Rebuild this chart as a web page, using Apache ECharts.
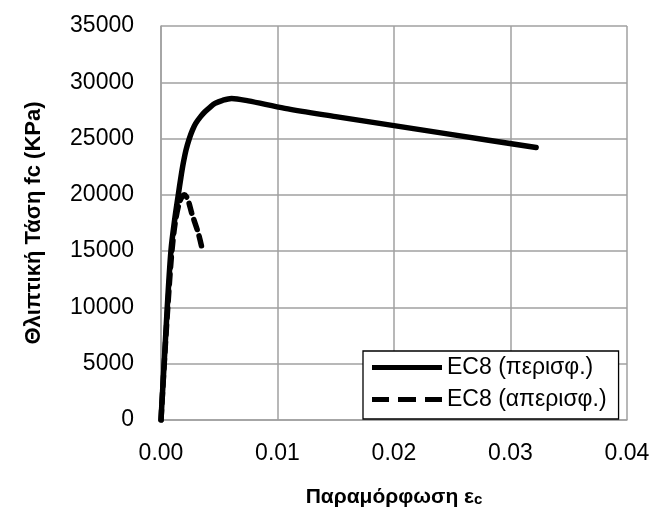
<!DOCTYPE html>
<html>
<head>
<meta charset="utf-8">
<script src="https://cdn.jsdelivr.net/npm/echarts@6/dist/echarts.min.js"></script>
<style>
  html, body { margin: 0; padding: 0; background: #fff; }
  #chart { width: 653px; height: 523px; }
</style>
</head>
<body>
<div id="chart"></div>
<script>
// Confined concrete (EC8) stress-strain curve
const confinedStrain = [0, 0.0001, 0.00028, 0.00054, 0.00086, 0.0012, 0.00148, 0.0017, 0.00191, 0.00215, 0.00243, 0.0027, 0.00298, 0.0034, 0.00377, 0.0042, 0.00463, 0.0053, 0.00606, 0.0075, 0.01063, 0.015, 0.02, 0.025, 0.0322];
const confinedStress = [0, 1900, 5180, 10060, 15100, 18000, 19980, 21500, 22800, 24000, 25000, 25750, 26350, 26950, 27380, 27780, 28120, 28400, 28570, 28350, 27680, 26950, 26150, 25350, 24200];

// Unconfined concrete (EC8) stress-strain curve
const unconfinedStrain = [0, 0.0003, 0.0006, 0.0009, 0.0012, 0.0016, 0.002, 0.0023, 0.00263, 0.0032, 0.0035];
const unconfinedStress = [0, 5400, 10300, 14600, 17400, 19400, 20000, 19600, 18400, 16600, 15350];

const seriesNames = ['EC8 (περισφ.)', 'EC8 (απερισφ.)'];
const xAxisTitle = 'Παραμόρφωση ε';
const xAxisTitleSub = 'c';
const yAxisTitle = 'Θλιπτική Τάση fc (KPa)';

const pairs = (xs, ys) => xs.map((x, i) => [x, ys[i]]);

const chart = echarts.init(document.getElementById('chart'), null, { renderer: 'canvas' });
const font = 'Liberation Sans, Arial, sans-serif';
const gridColor = '#a0a0a0';

// legend keys: a solid bar and a three-dash bar, 70 x 5
const solidKey = 'path://M0,0 L70,0 L70,5 L0,5 Z';
const dashKey = 'path://M0,0 L17,0 L17,5 L0,5 Z M26,0 L44,0 L44,5 L26,5 Z M53,0 L70,0 L70,5 L53,5 Z';

chart.setOption({
  backgroundColor: '#ffffff',
  animation: false,
  grid: { left: 161, right: 26, top: 26, bottom: 103, containLabel: false },
  legend: {
    orient: 'vertical',
    left: 363,
    top: 351,
    itemWidth: 70,
    itemHeight: 5,
    itemGap: 9,
    padding: [5, 12, 8, 9],
    borderColor: '#000',
    borderWidth: 1.3,
    backgroundColor: '#fff',
    textStyle: { fontFamily: font, fontSize: 23, color: '#000' },
    data: [
      { name: seriesNames[0], icon: solidKey },
      { name: seriesNames[1], icon: dashKey }
    ]
  },
  xAxis: {
    type: 'value',
    min: 0,
    max: 0.04,
    interval: 0.01,
    name: '{m|' + xAxisTitle + '}{s|' + xAxisTitleSub + '}',
    nameLocation: 'middle',
    nameGap: 67,
    nameTextStyle: {
      rich: {
        m: { fontFamily: font, fontSize: 21, fontWeight: 'bold', color: '#000' },
        s: { fontFamily: font, fontSize: 15, fontWeight: 'bold', color: '#000', padding: [5, 0, 0, 0] }
      }
    },
    axisLine: { show: true, lineStyle: { color: gridColor, width: 1.5 } },
    axisTick: { show: false },
    splitLine: { show: true, lineStyle: { color: gridColor, width: 1.5 } },
    axisLabel: {
      margin: 22,
      fontFamily: font,
      fontSize: 23,
      color: '#000',
      formatter: v => v.toFixed(2)
    }
  },
  yAxis: {
    type: 'value',
    min: 0,
    max: 35000,
    interval: 5000,
    name: yAxisTitle,
    nameLocation: 'middle',
    nameGap: 116,
    nameRotate: 90,
    nameTextStyle: { fontFamily: font, fontSize: 22, fontWeight: 'bold', color: '#000' },
    axisLine: { show: true, lineStyle: { color: gridColor, width: 1.5 } },
    axisTick: { show: false },
    splitLine: { show: true, lineStyle: { color: gridColor, width: 1.5 } },
    axisLabel: { margin: 27, fontFamily: font, fontSize: 23, color: '#000', formatter: v => String(v) }
  },
  series: [
    {
      name: seriesNames[0],
      type: 'line',
      smooth: 0.3,
      showSymbol: false,
      symbol: 'none',
      data: pairs(confinedStrain, confinedStress),
      lineStyle: { color: '#000', width: 5.5, cap: 'round', join: 'round' },
      itemStyle: { color: '#000' }
    },
    {
      name: seriesNames[1],
      type: 'line',
      smooth: 0.3,
      showSymbol: false,
      symbol: 'none',
      data: pairs(unconfinedStrain, unconfinedStress),
      lineStyle: { color: '#000', width: 5.5, type: [10, 7], cap: 'round' },
      itemStyle: { color: '#000' }
    }
  ]
});
</script>
</body>
</html>
